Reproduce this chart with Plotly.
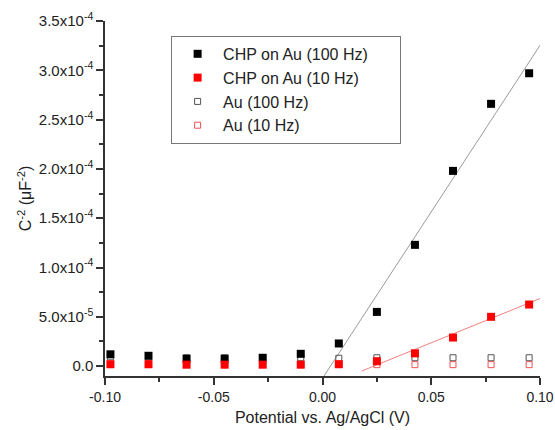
import plotly.graph_objects as go

potential = [-0.0975, -0.080, -0.0625, -0.045, -0.0275, -0.010, 0.0075, 0.025, 0.0425, 0.060, 0.0775, 0.095]
chp_100 = [1.2e-5, 1.05e-5, 0.75e-5, 0.75e-5, 0.85e-5, 1.25e-5, 2.3e-5, 5.5e-5, 1.23e-4, 1.98e-4, 2.66e-4, 2.97e-4]
chp_10 = [0.2e-5, 0.2e-5, 0.15e-5, 0.15e-5, 0.15e-5, 0.15e-5, 0.2e-5, 0.5e-5, 1.3e-5, 2.9e-5, 5.0e-5, 6.25e-5]
au_100 = [0.95e-5, 0.9e-5, 0.85e-5, 0.85e-5, 0.85e-5, 0.85e-5, 0.8e-5, 0.85e-5, 0.85e-5, 0.85e-5, 0.85e-5, 0.85e-5]
au_10 = [0.15e-5, 0.15e-5, 0.15e-5, 0.15e-5, 0.15e-5, 0.15e-5, 0.15e-5, 0.15e-5, 0.15e-5, 0.15e-5, 0.15e-5, 0.15e-5]

fit100_x = [0.0007, 0.1005]
fit100_y = [-1.0e-5, 3.27e-4]
fit10_x = [0.018, 0.1005]
fit10_y = [-0.5e-5, 6.9e-5]

y_tickvals = [0, 5e-5, 1e-4, 1.5e-4, 2e-4, 2.5e-4, 3e-4, 3.5e-4]
y_ticktext = ["0.0", "5.0x10<sup>-5</sup>", "1.0x10<sup>-4</sup>", "1.5x10<sup>-4</sup>",
              "2.0x10<sup>-4</sup>", "2.5x10<sup>-4</sup>", "3.0x10<sup>-4</sup>", "3.5x10<sup>-4</sup>"]
x_tickvals = [-0.10, -0.05, 0.0, 0.05, 0.10]
x_ticktext = ["-0.10", "-0.05", "0.00", "0.05", "0.10"]

FONT = "Arial, Liberation Sans, sans-serif"
PAD = "\u00a0" * 6

fig = go.Figure()
fig.add_trace(go.Scatter(x=fit100_x, y=fit100_y, mode="lines", line=dict(color="#9a9a9a", width=1),
                         showlegend=False, hoverinfo="skip"))
fig.add_trace(go.Scatter(x=fit10_x, y=fit10_y, mode="lines", line=dict(color="#f28080", width=1),
                         showlegend=False, hoverinfo="skip"))
fig.add_trace(go.Scatter(x=potential, y=au_100, mode="markers", name="Au (100 Hz)",
                         marker=dict(symbol="square-open", size=6, color="#555555", line=dict(width=1)),
                         legendrank=3, cliponaxis=False))
fig.add_trace(go.Scatter(x=potential, y=au_10, mode="markers", name="Au (10 Hz)",
                         marker=dict(symbol="square-open", size=6, color="#f05050", line=dict(width=1)),
                         legendrank=4, cliponaxis=False))
fig.add_trace(go.Scatter(x=potential, y=chp_100, mode="markers", name="CHP on Au (100 Hz)" + PAD,
                         marker=dict(symbol="square", size=8, color="black"), legendrank=1, cliponaxis=False))
fig.add_trace(go.Scatter(x=potential, y=chp_10, mode="markers", name="CHP on Au (10 Hz)",
                         marker=dict(symbol="square", size=8, color="#ff0000"), legendrank=2, cliponaxis=False))

axis_common = dict(showgrid=False, zeroline=False, showline=True, linecolor="#333333", linewidth=1.5,
                   ticks="outside", ticklen=7, tickwidth=1.5, tickcolor="#333333", automargin=False)

fig.update_layout(
    width=555, height=430,
    margin=dict(l=105, r=15, t=21, b=54),
    paper_bgcolor="white", plot_bgcolor="white",
    font=dict(family=FONT, color="#222222"),
    xaxis=dict(range=[-0.10, 0.10], tickvals=x_tickvals, ticktext=x_ticktext,
               tickfont=dict(family=FONT, size=14, color="#222222"),
               minor=dict(tickvals=[-0.075, -0.025, 0.025, 0.075], ticklen=4, tickwidth=1.5,
                          tickcolor="#333333", ticks="outside"),
               title=dict(text="Potential vs. Ag/AgCl (V)", font=dict(family=FONT, size=16), standoff=8),
               **axis_common),
    yaxis=dict(range=[-1.0e-5, 3.5e-4], tickvals=y_tickvals, ticktext=y_ticktext,
               tickfont=dict(family=FONT, size=15, color="#222222"),
               minor=dict(tickvals=[2.5e-5, 7.5e-5, 1.25e-4, 1.75e-4, 2.25e-4, 2.75e-4, 3.25e-4],
                          ticklen=4, tickwidth=1.5, tickcolor="#333333", ticks="outside"),
               title=dict(text="C<sup>-2</sup> (μF<sup>-2</sup>)", font=dict(family=FONT, size=16), standoff=3),
               **axis_common),
    legend=dict(x=0.152, y=0.958, xanchor="left", yanchor="top",
                bordercolor="#777777", borderwidth=1, bgcolor="white",
                font=dict(family=FONT, size=16, color="#222222"),
                itemwidth=41, traceorder="normal"),
)

fig.write_html("out.html")
